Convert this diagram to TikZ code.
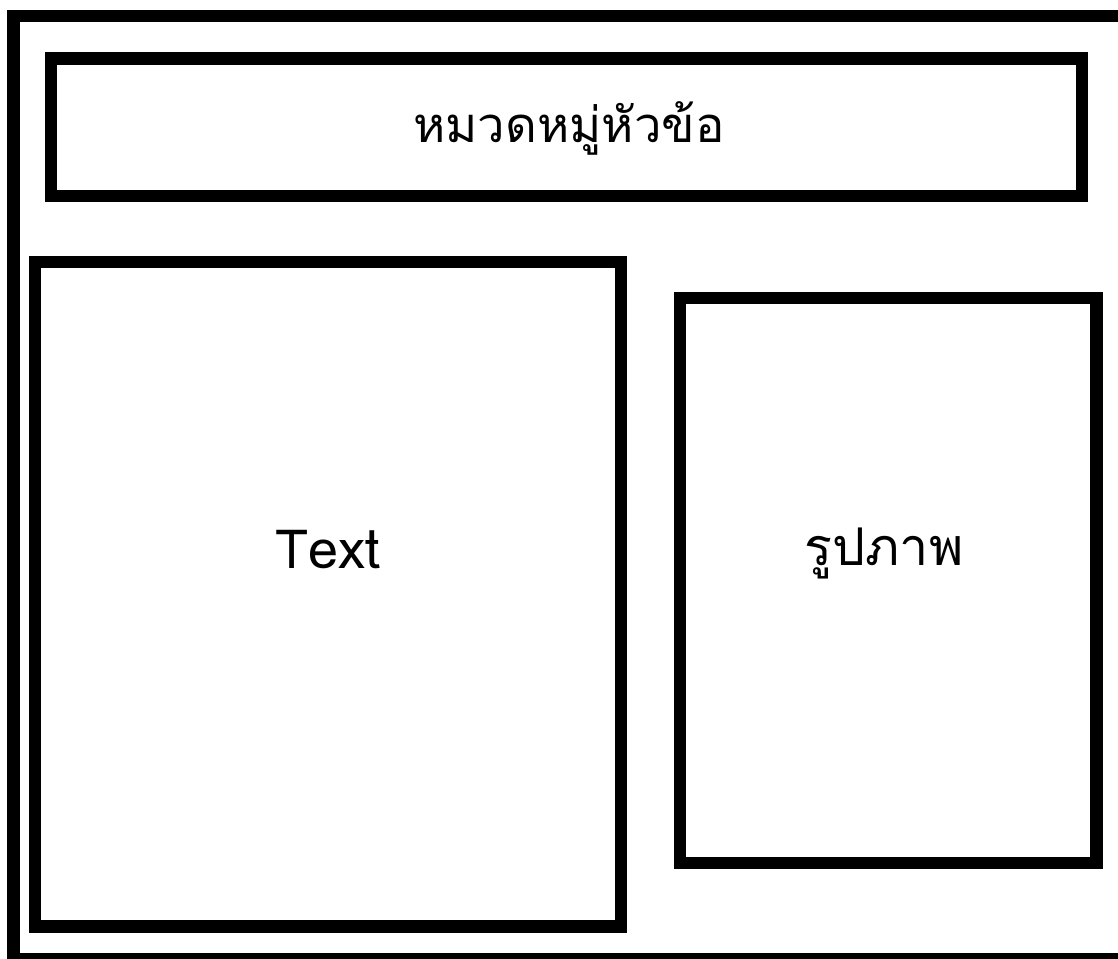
\documentclass[tikz,border=0pt]{standalone}
\usepackage{fontspec}
\newfontfamily\thaifont[Script=Thai]{Loma}
\begin{document}
\begin{tikzpicture}[x=1pt,y=-1pt,
  frame/.style={draw=black,line width=12.5pt,inner sep=0pt,outer sep=0pt,rectangle},
  lbl/.style={font=\thaifont\fontsize{54}{60}\selectfont,inner sep=0pt}]
\useasboundingbox[fill=white] (0,0) rectangle (1118,958);
\draw[line width=12.5pt] (13.5,15.8) rectangle (1130,959.5);
\node[frame,minimum width=1031pt,minimum height=137.5pt] (head) at (566.5,127.25) {};
\node[frame,minimum width=586pt,minimum height=664.5pt] (textbox) at (328,594.25) {};
\node[frame,minimum width=416.5pt,minimum height=565pt] (imgbox) at (888.25,580.5) {};
\node[lbl,font=\thaifont\fontsize{49}{56}\selectfont] (headlbl) at (569,128) {หมวดหมู่หัวข้อ};
\node[lbl] (textlbl) at (328,550) {Text};
\node[lbl,font=\thaifont\fontsize{52}{58}\selectfont] (imglbl) at (884,553) {รูปภาพ};
\end{tikzpicture}
\end{document}
